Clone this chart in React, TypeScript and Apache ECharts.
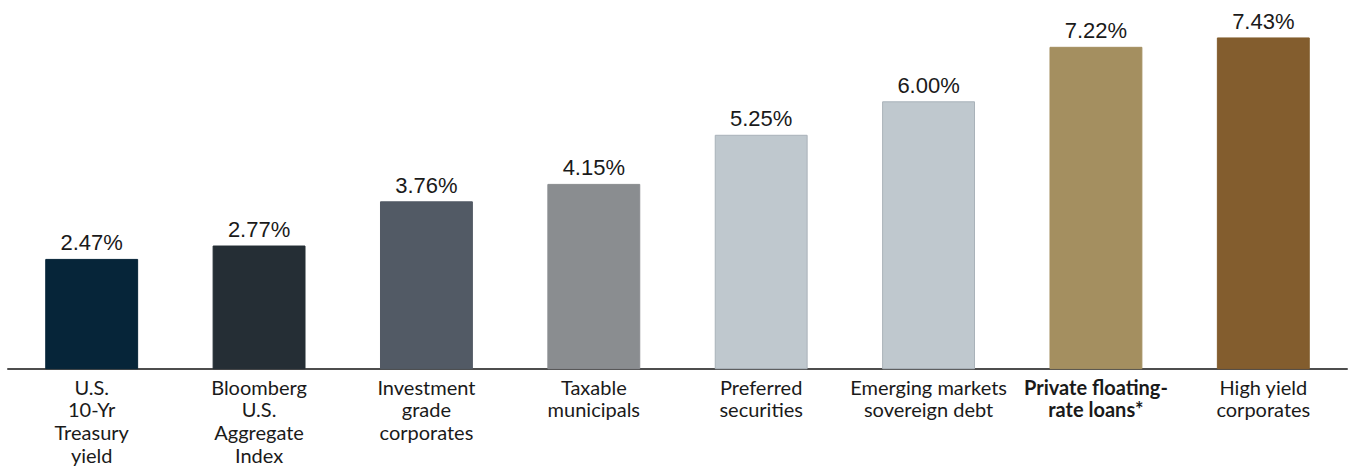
import React, { useEffect, useRef } from "react";
import * as echarts from "echarts";

const categories = [
  "U.S.\n10-Yr\nTreasury\nyield",
  "Bloomberg\nU.S.\nAggregate\nIndex",
  "Investment\ngrade\ncorporates",
  "Taxable\nmunicipals",
  "Preferred\nsecurities",
  "Emerging markets\nsovereign debt",
  "Private floating-\nrate loans*",
  "High yield\ncorporates",
];
const values = [2.47, 2.77, 3.76, 4.15, 5.25, 6.0, 7.22, 7.43];
const barColors = ["#062539", "#252e35", "#525a65", "#8a8d90", "#bfc8ce", "#bfc8ce", "#a48f60", "#835d2e"];
const boldIndex = 6;

export default function App() {
  const ref = useRef<HTMLDivElement>(null);
  useEffect(() => {
    if (!ref.current) return;
    const chart = echarts.init(ref.current, null, { renderer: "svg" });
    chart.setOption({
      animation: false,
      grid: { left: 8, right: 2, top: 12, bottom: 96, containLabel: false },
      xAxis: {
        type: "category",
        data: categories,
        axisLine: { show: true, lineStyle: { color: "#4d4d4d", width: 2 } },
        axisTick: { show: false },
        axisLabel: {
          interval: 0,
          margin: 6,
          fontFamily: "Lato",
          fontSize: 20,
          lineHeight: 22.7,
          color: "#1a1a1a",
          formatter: (v: string, i: number) =>
            i === boldIndex ? v.split("\n").map((s) => "{b|" + s + "}").join("\n") : v,
          rich: {
            b: { fontFamily: "Lato", fontWeight: "bold", fontSize: 20, lineHeight: 22.7, color: "#1a1a1a" },
          },
        },
      },
      yAxis: {
        type: "value",
        min: 0,
        max: 8,
        show: false,
        splitLine: { show: false },
      },
      series: [
        {
          type: "bar",
          barWidth: "55.5%",
          data: values.map((v, i) => ({
            value: v,
            itemStyle: {
              color: barColors[i],
              borderColor: i === 4 || i === 5 ? "#a9b2b9" : barColors[i],
              borderWidth: 1,
            },
          })),
          label: {
            show: true,
            position: "top",
            distance: 5,
            fontFamily: "Liberation Sans",
            fontSize: 22,
            color: "#1a1a1a",
            formatter: (p: any) => p.value.toFixed(2) + "%",
          },
        },
      ],
    });
    return () => chart.dispose();
  }, []);
  return <div ref={ref} style={{ position: "fixed", left: 0, top: 0, width: 1349, height: 466, background: "#fff" }} />;
}
